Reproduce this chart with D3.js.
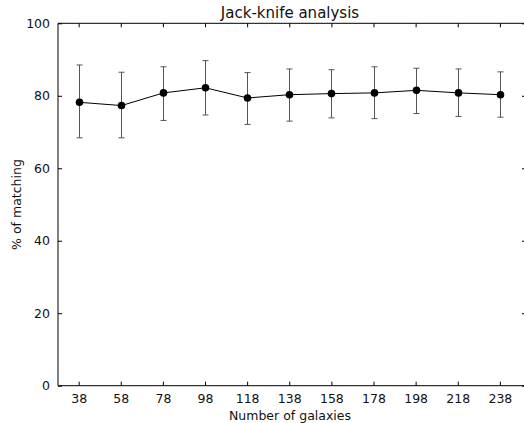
<!DOCTYPE html>
<html>
<head>
<meta charset="utf-8">
<script src="https://cdn.jsdelivr.net/npm/d3@7"></script>
<style>
  html, body { margin: 0; padding: 0; background: #fff; overflow: hidden; }
  svg { display: block; font-family: "DejaVu Sans", sans-serif; }
</style>
</head>
<body>
<svg id="chart" width="524" height="423"></svg>
<script>
const galaxies = [38, 58, 78, 98, 118, 138, 158, 178, 198, 218, 238];
const matching = [78.2, 77.3, 80.8, 82.2, 79.4, 80.3, 80.6, 80.8, 81.5, 80.8, 80.3];
const errLow   = [68.4, 68.4, 73.2, 74.7, 72.1, 73.0, 73.9, 73.7, 75.1, 74.3, 74.1];
const errHigh  = [88.5, 86.5, 88.0, 89.7, 86.4, 87.4, 87.2, 88.0, 87.6, 87.4, 86.6];
const xTicks = [38, 58, 78, 98, 118, 138, 158, 178, 198, 218, 238];
const yTicks = [0, 20, 40, 60, 80, 100];
const title = "Jack-knife analysis";
const xLabel = "Number of galaxies";
const yLabel = "% of matching";

const svg = d3.select("#chart");
const L = 58, R = 526, T = 23.3, B = 385.7;
const x = d3.scaleLinear().domain([28.2, 250.4]).range([L, R]);
const y = d3.scaleLinear().domain([0, 100]).range([B, T]);

const data = galaxies.map((g, i) => ({g, v: matching[i], lo: errLow[i], hi: errHigh[i]}));

// error bars
const eb = svg.append("g").attr("stroke", "#555").attr("stroke-width", 1);
data.forEach(d => {
  const cx = Math.round(x(d.g)) + 0.5;
  eb.append("line").attr("x1", cx).attr("x2", cx).attr("y1", y(d.lo)).attr("y2", y(d.hi));
  eb.append("line").attr("x1", cx - 3).attr("x2", cx + 3).attr("y1", y(d.lo)).attr("y2", y(d.lo));
  eb.append("line").attr("x1", cx - 3).attr("x2", cx + 3).attr("y1", y(d.hi)).attr("y2", y(d.hi));
});

// line
svg.append("path").datum(data)
  .attr("fill", "none").attr("stroke", "#000").attr("stroke-width", 1)
  .attr("d", d3.line().x(d => Math.round(x(d.g)) + 0.5).y(d => y(d.v)));

// markers
svg.append("g").selectAll("circle").data(data).join("circle")
  .attr("cx", d => Math.round(x(d.g)) + 0.5).attr("cy", d => y(d.v)).attr("r", 3.8)
  .attr("fill", "#000");

// axes (inside ticks, matplotlib classic)
const axB = d3.axisBottom(x).tickValues(xTicks).tickSize(-4).tickPadding(8).tickFormat(d3.format("d"));
const axT = d3.axisTop(x).tickValues(xTicks).tickSize(-4).tickFormat("");
const axL = d3.axisLeft(y).tickValues(yTicks).tickSize(-4).tickPadding(8).tickFormat(d3.format("d"));
const axR = d3.axisRight(y).tickValues(yTicks).tickSize(-3).tickFormat("");

function style(g) {
  g.select(".domain").remove();
  g.selectAll(".tick line").attr("stroke", "#000").attr("stroke-width", 1);
  g.selectAll("text").attr("fill", "#111").attr("font-size", 12.5).attr("font-family", "DejaVu Sans, sans-serif");
}
svg.append("g").attr("transform", `translate(0,${B})`).call(axB).call(style);
svg.append("g").attr("transform", `translate(0,${T})`).call(axT).call(style);
svg.append("g").attr("transform", `translate(${L},0)`).call(axL).call(style);
svg.append("g").attr("transform", `translate(${R - 1},0)`).call(axR).call(style);

// spines (right spine lies beyond the visible canvas)
const sp = svg.append("g").attr("stroke", "#000").attr("stroke-width", 1);
sp.append("line").attr("x1", L).attr("x2", 524).attr("y1", T).attr("y2", T);
sp.append("line").attr("x1", L).attr("x2", 524).attr("y1", B).attr("y2", B);
sp.append("line").attr("x1", L).attr("x2", L).attr("y1", T).attr("y2", B);

// texts
svg.append("text").attr("x", (L + R) / 2 - 2).attr("y", 18).attr("text-anchor", "middle")
  .attr("font-size", 15).attr("fill", "#111").text(title);
svg.append("text").attr("x", (L + R) / 2 - 2).attr("y", 420).attr("text-anchor", "middle")
  .attr("font-size", 12.5).attr("fill", "#111").text(xLabel);
svg.append("text").attr("transform", `translate(21,${(T + B) / 2}) rotate(-90)`).attr("text-anchor", "middle")
  .attr("font-size", 12.5).attr("fill", "#111").text(yLabel);
</script>
</body>
</html>
